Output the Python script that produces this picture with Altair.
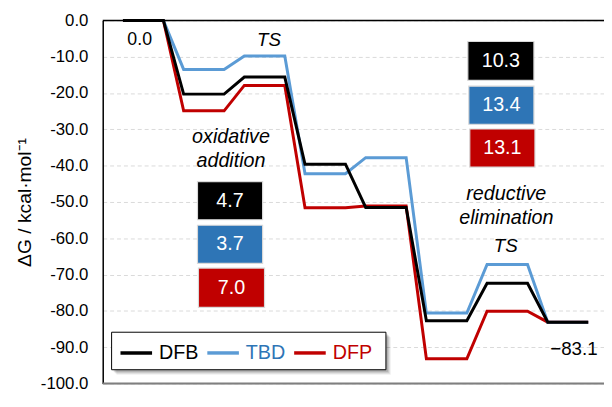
import altair as alt
import pandas as pd

# ---------------- data ----------------
series = ["DFB", "TBD", "DFP"]
DFB = [0.0, -20.3, -15.6, -39.6, -51.5, -82.7, -72.4, -83.1]
TBD = [0.0, -13.5, -9.8, -42.2, -37.8, -80.6, -67.2, -83.1]
DFP = [0.0, -24.9, -17.9, -51.6, -51.1, -93.2, -80.1, -83.1]
line_colors = ["#000000", "#5B9BD5", "#C00000"]
label_colors = ["#000000", "#2E75B6", "#C00000"]
y_ticks = [0, -10, -20, -30, -40, -50, -60, -70, -80, -90, -100]

# barrier boxes
box_text = ["4.7", "3.7", "7.0", "10.3", "13.4", "13.1"]
box_fill = ["#000000", "#2E75B6", "#C00000", "#000000", "#2E75B6", "#C00000"]
box_x0 = [1.228, 1.228, 1.244, 5.683, 5.699, 5.715]
box_x1 = [2.301, 2.301, 2.333, 6.772, 6.772, 6.789]
box_top = [-44.4, -56.4, -68.2, -5.8, -18.1, -29.9]
box_bot = [-54.9, -66.9, -79.0, -16.5, -28.6, -40.4]

# text annotations
ann_text = ["0.0", "TS", "oxidative", "addition", "reductive", "elimination", "TS", "\u221283.1"]
ann_x = [0.276, 2.407, 1.780, 1.780, 6.317, 6.317, 6.309, 7.431]
ann_y = [-5.3, -5.45, -32.2, -38.6, -47.8, -54.4, -62.1, -90.4]
ann_style = ["normal", "italic", "italic", "italic", "italic", "italic", "italic", "normal"]
ann_size = [18, 19, 20, 20, 20, 20, 19, 19]

LEVEL_W = 2 / 3
FONT = "Liberation Sans"
PLOT_H = 368

rows = []
for name, vals in [("DFP", DFP), ("TBD", TBD), ("DFB", DFB)]:
    for i, v in enumerate(vals):
        rows.append({"series": name, "x": i, "g": v, "order": 2 * i})
        rows.append({"series": name, "x": i + LEVEL_W, "g": v, "order": 2 * i + 1})
lines_df = pd.DataFrame(rows)

boxes_df = pd.DataFrame({
    "text": box_text, "fill": box_fill,
    "x0": box_x0, "x1": box_x1, "top": box_top, "bot": box_bot,
})
boxes_df["xc"] = (boxes_df["x0"] + boxes_df["x1"]) / 2
boxes_df["yc"] = (boxes_df["top"] + boxes_df["bot"]) / 2

ann_df = pd.DataFrame({"text": ann_text, "x": ann_x, "y": ann_y,
                       "style": ann_style, "size": ann_size})

xscale = alt.Scale(domain=[-1 / 3, 7.9268], nice=False, zero=False)
yscale = alt.Scale(domain=[-100, 0], nice=False, zero=False)

yaxis = alt.Axis(
    values=y_ticks, title="\u0394G / kcal\u00b7mol\u207b\u00b9",
    labelExpr="replace(format(datum.value, '.1f'), '\u2212', '-')",
    labelOverlap=False,
    grid=True, gridDash=[4, 3], gridColor="#D9D9D9", gridWidth=1,
    ticks=False, tickSize=0, labelPadding=15, labelFontSize=17,
    labelColor="#000000", titleFontSize=19.5, titleFontWeight="normal",
    titleColor="#000000", titlePadding=6, domainColor="#000000",
    domainWidth=1.5, labelFont=FONT, titleFont=FONT)


def X(field):
    return alt.X(field, scale=xscale, axis=None)


def Y(field):
    return alt.Y(field, scale=yscale, axis=yaxis)


label_expr = ("datum.value == '%s' ? '%s' : datum.value == '%s' ? '%s' : '%s'"
              % (series[1], label_colors[1], series[2], label_colors[2], label_colors[0]))

# legend frame centred at the same data level as in the reference
leg_center = 91.1 * PLOT_H / 100   # pixel offset inside plot

lines = alt.Chart(lines_df).mark_line(strokeWidth=3, strokeJoin="miter").encode(
    x=X("x:Q"),
    y=Y("g:Q"),
    color=alt.Color("series:N", scale=alt.Scale(domain=series, range=line_colors),
                    legend=alt.Legend(
                        title=None, orient="none", direction="horizontal",
                        legendX=16, legendY=round(leg_center - 16), symbolType="stroke",
                        symbolSize=1024, symbolStrokeWidth=3.5,
                        labelFontSize=20, labelFont=FONT, labelOffset=5,
                        columnPadding=2, padding=0,
                        labelColor=alt.ExprRef(label_expr))),
    order="order:Q",
    detail="series:N",
)

top_rule = alt.Chart(pd.DataFrame({"v": [0]})).mark_rule(
    color="#000000", strokeWidth=1.5).encode(y=Y("v:Q"))
bot_rule = alt.Chart(pd.DataFrame({"v": [-100]})).mark_rule(
    color="#7F7F7F", strokeWidth=2).encode(y=Y("v:Q"))

rects = alt.Chart(boxes_df).mark_rect(stroke="#D9D9D9", strokeWidth=1.2).encode(
    x=X("x0:Q"), x2="x1:Q",
    y=Y("top:Q"), y2="bot:Q",
    fill=alt.Fill("fill:N", scale=None),
)
rect_text = alt.Chart(boxes_df).mark_text(
    color="white", fontSize=20, font=FONT, align="center", baseline="middle"
).encode(x=X("xc:Q"), y=Y("yc:Q"), text="text:N")

ann_layers = []
for (style, size), sub in ann_df.groupby(["style", "size"]):
    ann_layers.append(alt.Chart(sub).mark_text(
        color="black", font=FONT, align="center", baseline="middle",
        fontStyle=style, fontSize=int(size)
    ).encode(x=X("x:Q"), y=Y("y:Q"), text="text:N"))

one = pd.DataFrame({"a": [0]})
top_px = round(leg_center - 19)
bot_px = top_px + 38
shadows = []
for d, op in [(5, 0.06), (4, 0.08), (3, 0.1), (2, 0.12)]:
    shadows.append(alt.Chart(one).mark_rect(color="#000000", opacity=op).encode(
        x=alt.value(9 + d), x2=alt.value(287 + d),
        y=alt.value(top_px + d), y2=alt.value(bot_px + d)))
legend_box = alt.Chart(one).mark_rect(fill="white", stroke="#000000", strokeWidth=1).encode(
    x=alt.value(9), x2=alt.value(287), y=alt.value(top_px), y2=alt.value(bot_px))

chart = alt.layer(
    lines, top_rule, bot_rule, rects, rect_text, *ann_layers, *shadows, legend_box
).properties(
    width=508, height=PLOT_H,
    autosize=alt.AutoSizeParams(type="none"),
    padding={"left": 96, "top": 10, "right": 0, "bottom": 7},
).configure_view(stroke=None).configure(font=FONT)

chart.save("out.html", embed_options={"renderer": "svg", "actions": False})
